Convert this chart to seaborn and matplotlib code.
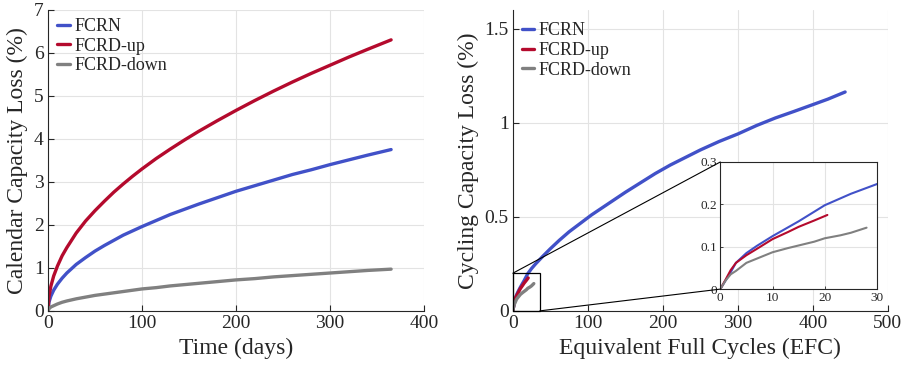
import numpy as np
import pandas as pd
import matplotlib
matplotlib.use("Agg")
import matplotlib.pyplot as plt
import seaborn as sns
from matplotlib.patches import Rectangle, ConnectionPatch
from matplotlib.lines import Line2D

# ---------------- data ----------------
series_names = ["FCRN", "FCRD-up", "FCRD-down"]
series_colors = ["#4151C8", "#B40A2D", "#808080"]

cal_days = [0, 1, 3, 6, 10, 15, 20, 30, 40, 50, 60, 70, 80, 90, 100, 115, 130, 145, 160,
            180, 200, 220, 240, 260, 280, 300, 320, 340, 365]
cal_fcrn = [0, 0.20, 0.34, 0.48, 0.62, 0.76, 0.88, 1.08, 1.24, 1.39, 1.52, 1.64, 1.76, 1.86,
            1.96, 2.10, 2.24, 2.36, 2.48, 2.63, 2.78, 2.91, 3.04, 3.17, 3.28, 3.40, 3.51, 3.62, 3.75]
cal_up = [0, 0.33, 0.57, 0.81, 1.04, 1.28, 1.47, 1.81, 2.09, 2.33, 2.55, 2.76, 2.95, 3.13,
          3.30, 3.54, 3.76, 3.97, 4.17, 4.42, 4.66, 4.89, 5.11, 5.32, 5.52, 5.71, 5.90, 6.08, 6.30]
cal_down = [0, 0.05, 0.09, 0.12, 0.16, 0.20, 0.23, 0.28, 0.32, 0.36, 0.39, 0.42, 0.45, 0.48,
            0.51, 0.54, 0.58, 0.61, 0.64, 0.68, 0.72, 0.75, 0.79, 0.82, 0.85, 0.88, 0.91, 0.94, 0.97]

cyc_fcrn_efc = [0, 1, 2, 3, 5, 7, 10, 15, 20, 25, 30, 40, 50, 62, 75, 90, 105, 120, 135, 150,
                170, 190, 210, 230, 250, 275, 300, 325, 350, 375, 400, 420, 443]
cyc_fcrn = [0, 0.02, 0.04, 0.062, 0.085, 0.102, 0.125, 0.16, 0.198, 0.225, 0.248, 0.29, 0.33,
            0.375, 0.42, 0.465, 0.51, 0.55, 0.59, 0.63, 0.68, 0.73, 0.775, 0.815, 0.855, 0.90,
            0.94, 0.985, 1.025, 1.06, 1.096, 1.125, 1.163]
cyc_up_efc = [0, 1, 2, 3, 5, 7, 10, 13, 15, 18, 20.5]
cyc_up = [0, 0.022, 0.045, 0.062, 0.08, 0.095, 0.118, 0.135, 0.147, 0.162, 0.175]
cyc_down_efc = [0, 1, 2, 3, 5, 7, 10, 13, 15, 18, 20, 23, 25, 28]
cyc_down = [0, 0.02, 0.035, 0.043, 0.062, 0.072, 0.087, 0.097, 0.103, 0.112, 0.12, 0.127, 0.133, 0.145]

cal_ticks_x = [0, 100, 200, 300, 400]
cal_ticks_y = [0, 1, 2, 3, 4, 5, 6, 7]
cyc_ticks_x = [0, 100, 200, 300, 400, 500]
cyc_ticks_y = [0, 0.5, 1, 1.5]
cyc_tick_labels_y = ["0", "0.5", "1", "1.5"]
ins_ticks_x = [0, 10, 20, 30]
ins_ticks_y = [0, 0.1, 0.2, 0.3]
ins_tick_labels_y = ["0", "0.1", "0.2", "0.3"]

# ---------------- build tables ----------------
cal_df = pd.concat([
    pd.DataFrame({"x": cal_days, "y": cal_fcrn, "s": "FCRN"}),
    pd.DataFrame({"x": cal_days, "y": cal_up, "s": "FCRD-up"}),
    pd.DataFrame({"x": cal_days, "y": cal_down, "s": "FCRD-down"}),
])
cyc_df = pd.concat([
    pd.DataFrame({"x": cyc_fcrn_efc, "y": cyc_fcrn, "s": "FCRN"}),
    pd.DataFrame({"x": cyc_up_efc, "y": cyc_up, "s": "FCRD-up"}),
    pd.DataFrame({"x": cyc_down_efc, "y": cyc_down, "s": "FCRD-down"}),
])
palette = dict(zip(series_names, series_colors))

# ---------------- style ----------------
sns.set_style("ticks")
plt.rcParams["font.family"] = ["Liberation Serif", "DejaVu Serif"]
plt.rcParams["xtick.direction"] = "in"
plt.rcParams["ytick.direction"] = "in"
plt.rcParams["axes.edgecolor"] = "#262626"
plt.rcParams["xtick.color"] = "#262626"
plt.rcParams["ytick.color"] = "#262626"
plt.rcParams["text.color"] = "#262626"
plt.rcParams["axes.labelcolor"] = "#262626"

fig = plt.figure(figsize=(9.06, 3.75), dpi=100)
ax1 = fig.add_axes([0.053, 0.171, 0.415, 0.803])
ax2 = fig.add_axes([0.566, 0.171, 0.414, 0.803])
ax3 = fig.add_axes([0.795, 0.229, 0.173, 0.339])

grid_kw = dict(color="#e3e3e3", linewidth=0.8)

def style_main(ax):
    ax.grid(True, **grid_kw)
    ax.set_axisbelow(True)
    for sp in ["top", "right"]:
        ax.spines[sp].set_visible(False)
    ax.tick_params(labelsize=14, length=4, width=0.8, pad=3)

# ---------------- left ----------------
sns.lineplot(data=cal_df, x="x", y="y", hue="s", palette=palette, hue_order=series_names,
             linewidth=2.4, ax=ax1, legend=False, sort=False)
ax1.set_xlim(0, 400)
ax1.set_ylim(0, 7)
ax1.set_xticks(cal_ticks_x)
ax1.set_yticks(cal_ticks_y)
ax1.set_xlabel("Time (days)", fontsize=17, labelpad=4)
ax1.set_ylabel("Calendar Capacity Loss (%)", fontsize=17, labelpad=4)
style_main(ax1)

# ---------------- right ----------------
sns.lineplot(data=cyc_df, x="x", y="y", hue="s", palette=palette, hue_order=series_names,
             linewidth=2.4, ax=ax2, legend=False, sort=False)
ax2.set_xlim(0, 500)
ax2.set_ylim(0, 1.6)
ax2.set_xticks(cyc_ticks_x)
ax2.set_yticks(cyc_ticks_y)
ax2.set_yticklabels(cyc_tick_labels_y)
ax2.set_xlabel("Equivalent Full Cycles (EFC)", fontsize=17, labelpad=4)
ax2.set_ylabel("Cycling Capacity Loss (%)", fontsize=17, labelpad=4)
style_main(ax2)

# legends
handles = [Line2D([], [], color=c, lw=2.4) for c in series_colors]
for ax, anchor in [(ax1, (-0.01, 1.015)), (ax2, (-0.01, 1.0))]:
    ax.legend(handles, series_names, loc="upper left", bbox_to_anchor=anchor, frameon=False,
              fontsize=13, handlelength=0.7, handletextpad=0.25, labelspacing=0.15,
              borderaxespad=0.3)

# ---------------- inset ----------------
sns.lineplot(data=cyc_df, x="x", y="y", hue="s", palette=palette, hue_order=series_names,
             linewidth=1.5, ax=ax3, legend=False, sort=False)
ax3.set_xlim(0, 30)
ax3.set_ylim(0, 0.3)
ax3.set_xticks(ins_ticks_x)
ax3.set_yticks(ins_ticks_y)
ax3.set_yticklabels(ins_tick_labels_y)
ax3.set_xlabel("")
ax3.set_ylabel("")
ax3.grid(True, **grid_kw)
ax3.set_axisbelow(True)
ax3.set_facecolor("white")
for sp in ax3.spines.values():
    sp.set_visible(True)
    sp.set_color("#262626")
    sp.set_linewidth(0.8)
ax3.tick_params(labelsize=9.5, length=2, width=0.6, pad=2)

# zoom box and connectors
ax2.add_patch(Rectangle((0, 0), 36, 0.2, fill=False, edgecolor="black", linewidth=0.9,
                        zorder=5, clip_on=False))
for (xa, ya), (xb, yb) in [((0, 0.2), (0, 1)), ((36, 0), (0, 0))]:
    cp = ConnectionPatch(xyA=(xa, ya), coordsA=ax2.transData, xyB=(xb, yb),
                         coordsB=ax3.transAxes, color="black", linewidth=0.8)
    fig.add_artist(cp)

fig.savefig("out.png", dpi=100)
